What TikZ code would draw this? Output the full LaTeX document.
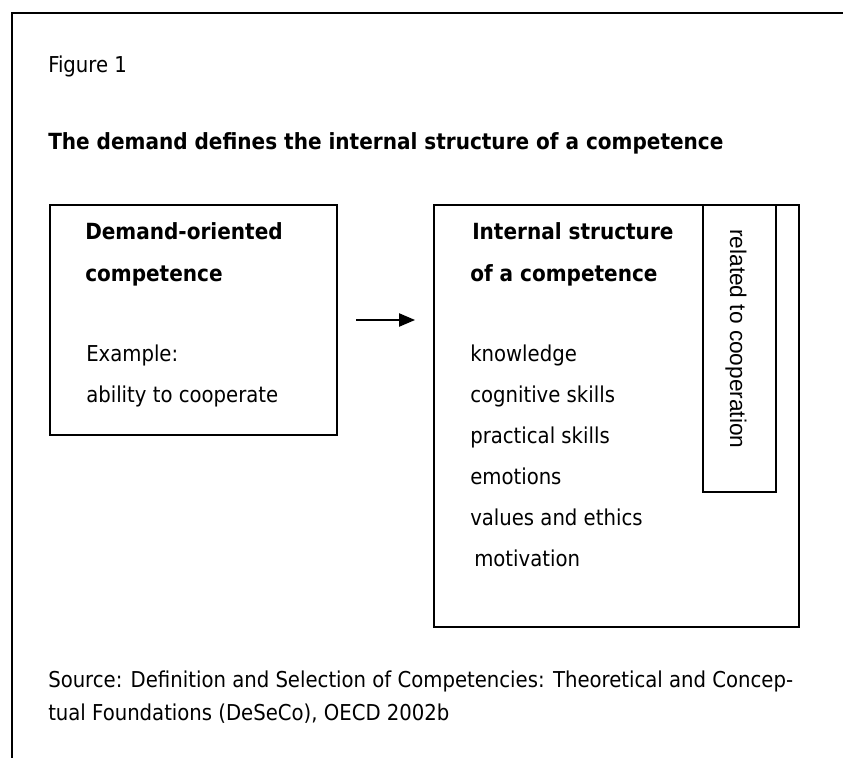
\documentclass[tikz,border=0pt]{standalone}
\usepackage{fontspec}
\setmainfont{DejaVu Sans Condensed}
\newfontfamily\arialfont{Liberation Sans}
\usetikzlibrary{arrows.meta}
\tikzset{
  px/.style={x=0.75pt,y=-0.75pt},
  frameline/.style={line width=1.2pt},
  boxnode/.style={draw, line width=0.9pt, inner sep=0pt, outer sep=0pt, anchor=north west},
  txt/.style={inner sep=0pt, anchor=base west, font=\fontsize{16.4}{20}\selectfont},
  btxt/.style={txt, font=\fontsize{16.7}{20}\selectfont\bfseries},
  arr/.style={line width=1pt, -{Triangle[length=12pt,width=10pt]}, shorten <=14.25pt, shorten >=14.25pt}
}
\begin{document}
\begin{tikzpicture}[px]
\useasboundingbox (0,0) rectangle (843,758);
% page frame (left and top only visible)
\coordinate (fr1) at (843,13);
\coordinate (fr2) at (12,13);
\coordinate (fr3) at (12,758);
\draw[frameline] (fr1) -- (fr2) -- (fr3);

\node[txt] (fig) at (48,72) {Figure 1};
\node[btxt] (title) at (48,149) {The demand defines the internal structure of a competence};

% boxes
\node[boxnode, minimum width=215.25pt, minimum height=172.5pt] (lbox) at (50,205) {};
\node[boxnode, minimum width=273.75pt, minimum height=316.5pt] (rbox) at (434,205) {};
\node[boxnode, minimum width=54.75pt, minimum height=215.25pt] (ibox) at (703,205) {};

% left box texts
\node[btxt] (l1) at (85,239) {Demand-oriented};
\node[btxt] (l2) at (85,281) {competence};
\node[txt] (l3) at (86,361) {Example:};
\node[txt] (l4) at (86,402) {ability to cooperate};

% right box texts
\node[btxt] (r1) at (472,239) {Internal structure};
\node[btxt] (r2) at (470,281) {of a competence};
\node[txt] (r3) at (470,361) {knowledge};
\node[txt] (r4) at (470,402) {cognitive skills};
\node[txt] (r5) at (470,443) {practical skills};
\node[txt] (r6) at (470,484) {emotions};
\node[txt] (r7) at (470,525) {values and ethics};
\node[txt] (r8) at (474,566) {motivation};

% rotated text
\node[inner sep=0pt, rotate=-90, anchor=west, font=\arialfont\fontsize{17}{20}\selectfont] (rot) at (736,229) {related to cooperation};

% arrow
\draw[arr] (lbox.east) -- (lbox.east -| rbox.west);

% source
\node[txt] (s1) at (48,687) {Source: Definition and Selection of Competencies: Theoretical and Concep-};
\node[txt] (s2) at (48,720) {tual Foundations (DeSeCo), OECD 2002b};
\end{tikzpicture}
\end{document}
